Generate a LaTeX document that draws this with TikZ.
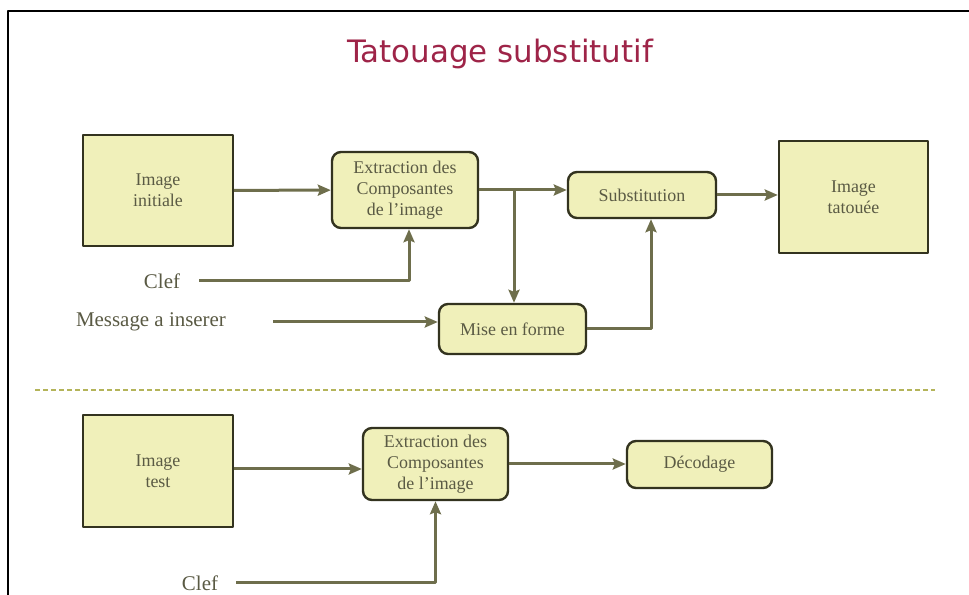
\documentclass[tikz,border=0pt]{standalone}
\usepackage{fontspec}
\setmainfont{Liberation Serif}
\newfontfamily\titlefont{DejaVu Sans}
\usetikzlibrary{arrows.meta}
\definecolor{boxfill}{HTML}{F0F0BA}
\definecolor{boxline}{HTML}{33331F}
\definecolor{flowline}{HTML}{6E6E4C}
\definecolor{labeltext}{HTML}{5A5A44}
\definecolor{titlered}{HTML}{9E2448}
\definecolor{sepline}{HTML}{B4B45A}
\tikzset{
  imgbox/.style={draw=boxline,fill=boxfill,line width=2.4bp,inner sep=0pt,align=center,text=labeltext,font=\fontsize{18}{21}\selectfont},
  procbox/.style={imgbox,rounded corners=9bp},
  lbl/.style={text=labeltext,inner sep=0pt,font=\fontsize{21}{24}\selectfont},
  flow/.style={flowline,line width=3bp},
  flowto/.style={flow,-{Stealth[length=13bp,width=11bp,inset=2bp]}},
}
\begin{document}
\begin{tikzpicture}[line join=bevel,]
\useasboundingbox (0bp,0bp) rectangle (969bp,595bp);
\draw [line width=2bp] (8bp,0bp) -- (8bp,584bp) -- (969bp,584bp);
%%
\node (title) at (500bp,541bp) [text=titlered,font=\titlefont\fontsize{31}{34}\selectfont] {Tatouage substitutif};
%% insertion
\node (img_init) at (158bp,404.5bp) [imgbox,minimum width=150bp,minimum height=111bp] {Image\\initiale};
  \node (extr_1) at (405bp,405bp) [procbox,minimum width=146bp,minimum height=76bp] {Extraction des\\Composantes\\de l'image};
  \node (subst) at (642bp,400bp) [procbox,minimum width=148bp,minimum height=46bp] {Substitution};
  \node (img_tat) at (853.5bp,398bp) [imgbox,minimum width=149bp,minimum height=112bp] {Image\\tatouée};
  \node (mise) at (512.5bp,266bp) [procbox,minimum width=147bp,minimum height=50bp] {Mise en forme};
  \node (clef_1) at (162bp,314bp) [lbl] {Clef};
  \node (msg) at (151bp,273bp) [lbl] {Message a inserer};
  \coordinate (split) at (514bp,405bp);
  \draw [flowto] (img_init) -- (extr_1);
  \draw [flowto] (extr_1) -- (extr_1 -| subst.west);
  \draw [flowto] (split) -- (split |- mise.north);
  \draw [flowto] (mise.east) -| ([xshift=9bp]subst.south);
  \draw [flowto] (subst.east) -- (subst.east -| img_tat.west);
  \draw [flowto] ([xshift=19bp]clef_1.east) -| ([xshift=4bp]extr_1.south);
  \draw [flowto] ([xshift=47bp]msg.east) -- (msg -| mise.west);
%
\draw [sepline,line width=2bp,dash pattern=on 5bp off 3bp] (35bp,205bp) -- (935bp,205bp);
%% detection
\node (img_test) at (158bp,124bp) [imgbox,minimum width=150bp,minimum height=112bp] {Image\\test};
  \node (extr_2) at (435.5bp,131bp) [procbox,minimum width=145bp,minimum height=72bp] {Extraction des\\Composantes\\de l'image};
  \node (decod) at (699.5bp,130.5bp) [procbox,minimum width=145bp,minimum height=47bp] {Décodage};
  \node (clef_2) at (200bp,12bp) [lbl] {Clef};
  \draw [flowto] ([yshift=2bp]img_test.east) -- ([yshift=2bp]img_test.east -| extr_2.west);
  \draw [flowto] (extr_2) -- (extr_2 -| decod.west);
  \draw [flowto] ([xshift=18bp]clef_2.east) -| (extr_2.south);
%
\end{tikzpicture}
\end{document}
